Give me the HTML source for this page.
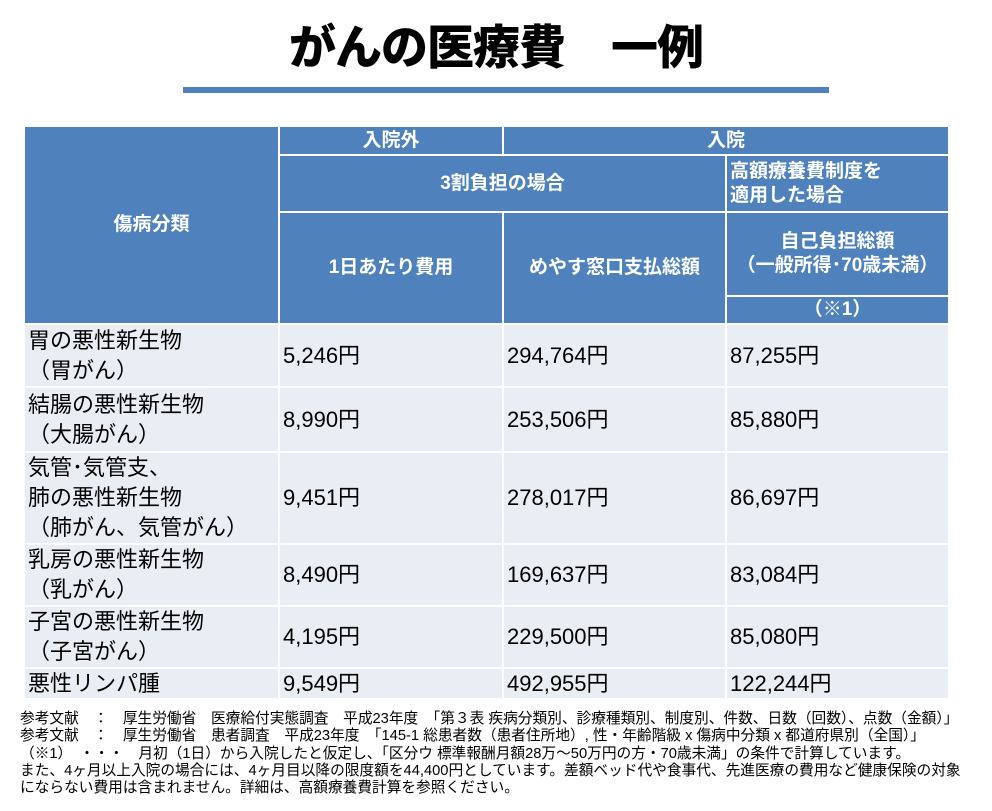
<!DOCTYPE html>
<html><head><meta charset="utf-8"><style>
body{margin:0;width:992px;height:811px;background:#fff;position:relative;overflow:hidden;font-family:"Liberation Sans","Noto Sans CJK JP",sans-serif;}
.t{position:absolute;left:0;width:992px;top:18px;text-align:center;font-size:47px;font-weight:900;line-height:60px;color:#000;letter-spacing:-1px;}
.bar{position:absolute;left:183px;top:87px;width:646px;height:6px;background:#4f81bd;}
.c{position:absolute;box-sizing:border-box;display:flex;align-items:center;}
.h{background:#4f81bd;color:#fff;font-weight:bold;font-size:19px;justify-content:center;text-align:center;line-height:24px;}
.b{background:#e9edf4;color:#000;font-size:22px;line-height:30px;padding-left:3px;}
.f{position:absolute;left:20px;top:711px;font-size:14.7px;line-height:17.3px;color:#000;white-space:pre;}
</style></head><body>
<div class="t">がんの医療費　一例</div>
<div class="bar"></div>

<div class="c h" style="left:25px;top:127px;width:253px;height:196px;">傷病分類</div>
<div class="c h" style="left:280px;top:127px;width:222px;height:27px;">入院外</div>
<div class="c h" style="left:504px;top:127px;width:444px;height:27px;">入院</div>
<div class="c h" style="left:280px;top:156px;width:445px;height:55px;">3割負担の場合</div>
<div class="c h" style="left:727px;top:156px;width:221px;height:55px;justify-content:flex-start;text-align:left;padding-left:3px;">高額療養費制度を<br>適用した場合</div>
<div class="c h" style="left:280px;top:213px;width:222px;height:110px;">1日あたり費用</div>
<div class="c h" style="left:504px;top:213px;width:221px;height:110px;">めやす窓口支払総額</div>
<div class="c h" style="left:727px;top:213px;width:221px;height:82px;">自己負担総額<br>（一般所得･70歳未満）</div>
<div class="c h" style="left:727px;top:297px;width:221px;height:26px;">（※1）</div>

<div class="c b" style="left:25px;top:325px;width:253px;height:61px;">胃の悪性新生物<br>（胃がん）</div>
<div class="c b" style="left:280px;top:325px;width:222px;height:61px;">5,246円</div>
<div class="c b" style="left:504px;top:325px;width:221px;height:61px;">294,764円</div>
<div class="c b" style="left:727px;top:325px;width:221px;height:61px;">87,255円</div>

<div class="c b" style="left:25px;top:388px;width:253px;height:63px;">結腸の悪性新生物<br>（大腸がん）</div>
<div class="c b" style="left:280px;top:388px;width:222px;height:63px;">8,990円</div>
<div class="c b" style="left:504px;top:388px;width:221px;height:63px;">253,506円</div>
<div class="c b" style="left:727px;top:388px;width:221px;height:63px;">85,880円</div>

<div class="c b" style="left:25px;top:453px;width:253px;height:90px;">気管･気管支、<br>肺の悪性新生物<br>（肺がん、気管がん）</div>
<div class="c b" style="left:280px;top:453px;width:222px;height:90px;">9,451円</div>
<div class="c b" style="left:504px;top:453px;width:221px;height:90px;">278,017円</div>
<div class="c b" style="left:727px;top:453px;width:221px;height:90px;">86,697円</div>

<div class="c b" style="left:25px;top:545px;width:253px;height:60px;">乳房の悪性新生物<br>（乳がん）</div>
<div class="c b" style="left:280px;top:545px;width:222px;height:60px;">8,490円</div>
<div class="c b" style="left:504px;top:545px;width:221px;height:60px;">169,637円</div>
<div class="c b" style="left:727px;top:545px;width:221px;height:60px;">83,084円</div>

<div class="c b" style="left:25px;top:607px;width:253px;height:60px;">子宮の悪性新生物<br>（子宮がん）</div>
<div class="c b" style="left:280px;top:607px;width:222px;height:60px;">4,195円</div>
<div class="c b" style="left:504px;top:607px;width:221px;height:60px;">229,500円</div>
<div class="c b" style="left:727px;top:607px;width:221px;height:60px;">85,080円</div>

<div class="c b" style="left:25px;top:669px;width:253px;height:29px;">悪性リンパ腫</div>
<div class="c b" style="left:280px;top:669px;width:222px;height:29px;">9,549円</div>
<div class="c b" style="left:504px;top:669px;width:221px;height:29px;">492,955円</div>
<div class="c b" style="left:727px;top:669px;width:221px;height:29px;">122,244円</div>

<div class="f">参考文献　：　厚生労働省　医療給付実態調査　平成23年度　「第３表 疾病分類別、診療種類別、制度別、件数、日数（回数）、点数（金額）」
参考文献　：　厚生労働省　患者調査　平成23年度　「145-1 総患者数（患者住所地）, 性・年齢階級 x 傷病中分類 x 都道府県別（全国）」
（※1）　・・・　月初（1日）から入院したと仮定し、「区分ウ 標準報酬月額28万～50万円の方・70歳未満」の条件で計算しています。
また、4ヶ月以上入院の場合には、4ヶ月目以降の限度額を44,400円としています。差額ベッド代や食事代、先進医療の費用など健康保険の対象
にならない費用は含まれません。詳細は、高額療養費計算を参照ください。</div>
</body></html>
